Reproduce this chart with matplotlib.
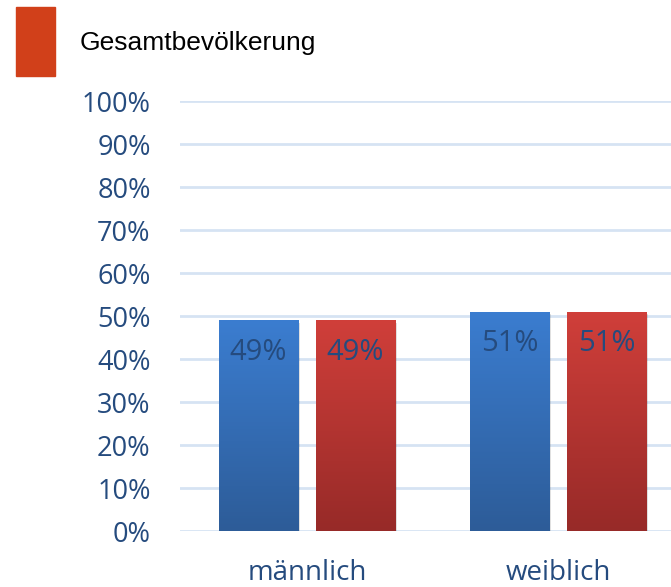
import matplotlib.pyplot as plt
import numpy as np
from matplotlib.colors import LinearSegmentedColormap
from matplotlib.patches import Rectangle

categories = ["männlich", "weiblich"]
stichprobe = [49, 51]
gesamt = [49, 51]
legend_label = "Gesamtbevölkerung"
yticks = [0, 10, 20, 30, 40, 50, 60, 70, 80, 90, 100]

text_blue = "#254b7e"
grid_col = "#d6e3f3"

fig = plt.figure(figsize=(6.71, 5.87), dpi=100)
ax = fig.add_axes([0.268, 0.0954, 0.732, 0.7325])

x = np.arange(len(categories))
w = 0.315
off = 0.193

blue_cm = LinearSegmentedColormap.from_list("b", ["#2d5c98", "#3b7dd0"])
red_cm = LinearSegmentedColormap.from_list("r", ["#972a28", "#d03f3a"])

grad = np.linspace(0, 1, 256).reshape(-1, 1)


def gradient_bars(xs, vals, cmap):
    bars = ax.bar(xs, vals, w, color="none", zorder=3)
    for b in bars:
        x0, y0 = b.get_x(), b.get_y()
        # soft shadow
        ax.add_patch(Rectangle((x0 + 0.008, y0 - 0.6), b.get_width(), b.get_height(),
                               color="#000000", alpha=0.12, zorder=2, lw=0))
        im = ax.imshow(grad, cmap=cmap, aspect="auto", origin="lower",
                       extent=[x0, x0 + b.get_width(), y0, y0 + b.get_height()], zorder=3)
        im.set_clip_path(b)
    return bars


b1 = gradient_bars(x - off, stichprobe, blue_cm)
b2 = gradient_bars(x + off, gesamt, red_cm)

for bars, vals in [(b1, stichprobe), (b2, gesamt)]:
    for b, v in zip(bars, vals):
        ax.text(b.get_x() + b.get_width() / 2, v - 7.5, f"{v}%", ha="center", va="center",
                fontsize=21, color=text_blue, family="Open Sans", zorder=5)

ax.set_xlim(-0.506, 1.45)
ax.set_ylim(0, 100)
ax.set_yticks(yticks)
ax.set_yticklabels([f"{t}%" for t in yticks], fontsize=19.5, color=text_blue, family="Open Sans")
ax.set_xticks(x)
ax.set_xticklabels(categories, fontsize=20, color=text_blue, family="Open Sans")
ax.tick_params(axis="y", length=0, pad=21)
ax.tick_params(axis="x", length=0, pad=20)
ax.yaxis.grid(True, color=grid_col, lw=2)
ax.set_axisbelow(True)
for s in ax.spines.values():
    s.set_visible(False)

# legend (only red series shown)
fig.patches.append(Rectangle((16 / 671, 1 - 76 / 587), 39 / 671, 69 / 587,
                             transform=fig.transFigure, color="#d1401a", figure=fig))
fig.text(80 / 671, 1 - 43 / 587, legend_label, fontsize=19, va="center",
         family="Liberation Sans", color="black")

fig.savefig("out.png", dpi=100)
